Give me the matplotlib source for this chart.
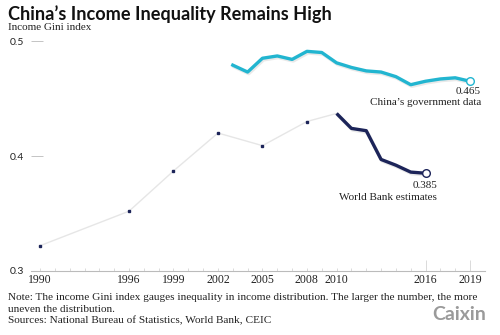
import matplotlib
matplotlib.use("Agg")
import matplotlib.pyplot as plt
import matplotlib.patheffects as pe

# Data
wb_years = [1990, 1996, 1999, 2002, 2005, 2008, 2010]
wb_values = [0.322, 0.352, 0.387, 0.420, 0.409, 0.430, 0.437]
wb_recent_years = [2010, 2011, 2012, 2013, 2014, 2015, 2016]
wb_recent_values = [0.437, 0.424, 0.422, 0.397, 0.392, 0.386, 0.385]
gov_years = list(range(2003, 2020))
gov_values = [0.479, 0.473, 0.485, 0.487, 0.484, 0.491, 0.490, 0.481, 0.477,
              0.474, 0.473, 0.469, 0.462, 0.465, 0.467, 0.468, 0.465]
x_tick_labels = [1990, 1996, 1999, 2002, 2005, 2008, 2010, 2016, 2019]
y_ticks = [0.3, 0.4, 0.5]

CYAN = "#22b5d0"
NAVY = "#1c2459"
GRAY = "#e6e6e6"
TXT = "#222222"
SERIF = "Liberation Serif"

fig = plt.figure(figsize=(5, 3.35), dpi=100)
ax = fig.add_axes([31/500, 1-271/335, (485-31)/500, (271-35)/335])

shadow = [pe.SimpleLineShadow(offset=(0.8, -1.2), shadow_color="#aaaaaa", alpha=0.25),
          pe.Normal()]

ax.plot(wb_years, wb_values, color=GRAY, lw=1.0, zorder=2)
ax.plot(wb_years[:-1], wb_values[:-1], ls="none", marker="s", ms=1.7,
        color=NAVY, zorder=3)
ax.plot(wb_recent_years, wb_recent_values, color=NAVY, lw=2.4, zorder=4,
        solid_capstyle="butt", path_effects=shadow)
ax.plot(wb_recent_years[-1], wb_recent_values[-1], marker="o", ms=5.5,
        mfc="white", mec=NAVY, mew=1.0, zorder=5)

ax.plot(gov_years, gov_values, color=CYAN, lw=2.4, zorder=4, path_effects=shadow)
ax.plot(gov_years[-1], gov_values[-1], marker="o", ms=5.5,
        mfc="white", mec=CYAN, mew=1.0, zorder=5)

ax.set_xlim(1989.39, 2020.01)
ax.set_ylim(0.3, 0.3 + (271-35)/1150)

for s in ["top", "right", "left"]:
    ax.spines[s].set_visible(False)
ax.spines["bottom"].set_color("#bbbbbb")
ax.spines["bottom"].set_linewidth(0.8)

ax.set_xticks(x_tick_labels)
ax.set_xticklabels([str(v) for v in x_tick_labels], family=SERIF, fontsize=8.5, color=TXT)
ax.set_xticks(range(1990, 2020), minor=True)
ax.tick_params(axis="x", which="minor", direction="in", length=2.5, width=0.5, color="#cccccc")
ax.tick_params(axis="x", which="major", direction="in", length=2.5, width=0.5, color="#cccccc", pad=2)
for t in ax.xaxis.get_major_ticks():
    if t.get_loc() in (2016, 2019):
        t.tick1line.set_markersize(8)

ax.set_yticks(y_ticks)
ax.set_yticklabels([f"{v:.1f}" for v in y_ticks], family="Lato", fontsize=7.5, color=TXT)
ax.tick_params(axis="y", direction="in", length=8.5, width=0.7, color="#c4c4c4", pad=5)

# annotations
ax.annotate("0.465", xy=(481/500, 1-92/335), xycoords="figure fraction",
            ha="right", va="center", family=SERIF, fontsize=8, color=TXT)
ax.annotate("China’s government data", xy=(481/500, 1-103/335), xycoords="figure fraction",
            ha="right", va="center", family=SERIF, fontsize=8, color=TXT)
ax.annotate("0.385", xy=(437/500, 1-186/335), xycoords="figure fraction",
            ha="right", va="center", family=SERIF, fontsize=8, color=TXT)
ax.annotate("World Bank estimates", xy=(437/500, 1-197/335), xycoords="figure fraction",
            ha="right", va="center", family=SERIF, fontsize=8, color=TXT)

fig.text(8/500, 1-14/335, "China’s Income Inequality Remains High", family="Lato",
         fontweight="bold", fontsize=13.1, color="#111111", va="center", ha="left")
fig.text(8/500, 1-28/335, "Income Gini index", family=SERIF, fontsize=8,
         color=TXT, va="center", ha="left")
note1 = fig.text(8/500, 1-297/335, "Note: The income Gini index gauges inequality in income distribution. The larger the number, the more",
                 family=SERIF, fontsize=8, color=TXT, va="center", ha="left")
note2 = fig.text(8/500, 1-309/335, "uneven the distribution.",
                 family=SERIF, fontsize=8, color=TXT, va="center", ha="left")
note3 = fig.text(8/500, 1-321/335, "Sources: National Bureau of Statistics, World Bank, CEIC",
                 family=SERIF, fontsize=8, color=TXT, va="center", ha="left")
fig.text(486/500, 1-315/335, "Caixin", family="Lato", fontweight="bold", fontsize=14,
         color="#9a9a9a", va="center", ha="right")

# fit the note width to the reference (~464 px)
renderer = fig.canvas.get_renderer()
w = note1.get_window_extent(renderer).width
fs = 8 * 464 / w
for t in (note1, note2, note3):
    t.set_fontsize(fs)

fig.savefig("out.png", dpi=100)
